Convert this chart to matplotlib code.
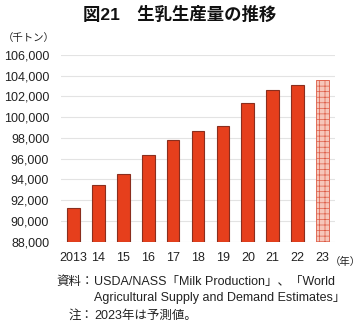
import matplotlib
matplotlib.use("Agg")
import matplotlib.pyplot as plt
from matplotlib.ticker import FuncFormatter

plt.rcParams['font.family'] = ['Liberation Sans', 'Noto Sans CJK JP']
plt.rcParams['hatch.linewidth'] = 0.5

years = ['2013', '14', '15', '16', '17', '18', '19', '20', '21', '22', '23']
production = [91280, 93460, 94560, 96370, 97770, 98700, 99120, 101330, 102650, 103110, 103590]
forecast_flags = [False] * 10 + [True]
yticks = list(range(88000, 106001, 2000))

W, H = 360, 324
fig = plt.figure(figsize=(W / 100, H / 100), dpi=100)
ax = fig.add_axes([61 / W, (H - 241.7) / H, 274 / W, 186.7 / H])

x = list(range(len(years)))
for xi, v, fc in zip(x, production, forecast_flags):
    if fc:
        ax.bar(xi, v - 88000, bottom=88000, width=0.51, color='#f6c6ba',
               edgecolor='#dd5a44', hatch='+++', linewidth=0.6, zorder=3)
    else:
        ax.bar(xi, v - 88000, bottom=88000, width=0.51, color='#e63f1c',
               edgecolor='#8a2e1e', linewidth=0.8, zorder=3)

ax.set_xlim(-0.5, 10.5)
ax.set_ylim(88000, 106000)
ax.set_yticks(yticks)
ax.yaxis.set_major_formatter(FuncFormatter(lambda v, p: f"{int(v):,}"))
ax.set_xticks(x)
ax.set_xticklabels(years)
ax.tick_params(axis='y', length=0, pad=8.5, labelsize=9, labelcolor='#222222')
ax.tick_params(axis='x', length=0, pad=7.5, labelsize=9, labelcolor='#222222')
ax.yaxis.grid(True, color='#e3e3e3', linewidth=0.8, zorder=0)
ax.set_axisbelow(True)
for s in ax.spines.values():
    s.set_visible(False)

fig.text(180 / W, 1 - 14 / H, '図21　生乳生産量の推移', ha='center', va='center',
         fontsize=12.5, fontweight='bold', color='#111111')
fig.text(3 / W, 1 - 38 / H, '（千トン）', ha='left', va='center', fontsize=7.5, color='#222222')
fig.text(329.5 / W, 1 - 261.7 / H, '（年）', ha='left', va='center', fontsize=7.5, color='#222222')

fs = 9
fig.text(94 / W, 1 - 281.7 / H, '資料：', ha='right', va='center', fontsize=fs, color='#222222')
fig.text(94 / W, 1 - 281.7 / H, 'USDA/NASS「Milk Production」、「World', ha='left', va='center',
         fontsize=fs, color='#222222')
fig.text(94 / W, 1 - 298.5 / H, 'Agricultural Supply and Demand Estimates」', ha='left', va='center',
         fontsize=fs, color='#222222')
fig.text(94 / W, 1 - 316 / H, '注：', ha='right', va='center', fontsize=fs, color='#222222')
fig.text(94 / W, 1 - 316 / H, '2023年は予測値。', ha='left', va='center', fontsize=fs, color='#222222')

fig.savefig('out.png', dpi=100)
